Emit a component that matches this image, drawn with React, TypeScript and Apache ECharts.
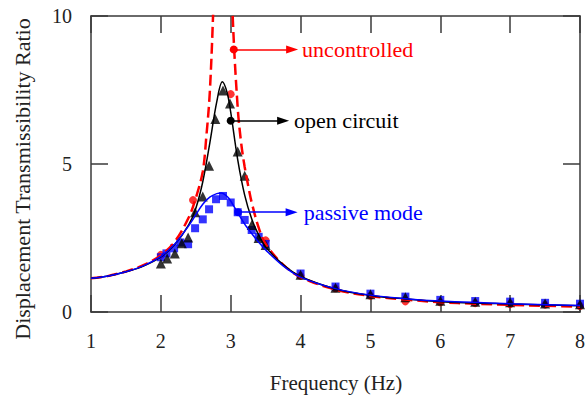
import React, { useEffect, useRef } from "react";
import * as echarts from "echarts";

// ---- Data ----
const xRange = [1, 8];
const yRange = [0, 10];

// theoretical curves [frequency (Hz), transmissibility ratio]
const uncontrolledCurve: number[][] = [
  [1, 1.14], [1.25, 1.22], [1.5, 1.37], [1.75, 1.58], [2, 1.92], [2.2, 2.38],
  [2.4, 3.2], [2.5, 3.85], [2.6, 4.75], [2.65, 5.9], [2.7, 7.4], [2.75, 10.2],
  [2.8, 14], [2.89, 18], [2.98, 14], [3.03, 9.9], [3.1, 6.9], [3.15, 5.7],
  [3.2, 4.9], [3.26, 4.15], [3.3, 3.7], [3.4, 2.85], [3.5, 2.3], [3.75, 1.6],
  [4, 1.18], [4.5, 0.76], [5, 0.54], [5.5, 0.42], [6, 0.33], [6.5, 0.28],
  [7, 0.24], [7.5, 0.21], [8, 0.18],
];
const openCircuitCurve: number[][] = [
  [1, 1.14], [1.25, 1.22], [1.5, 1.36], [1.75, 1.55], [2, 1.86], [2.2, 2.28],
  [2.4, 2.95], [2.5, 3.5], [2.6, 4.4], [2.7, 5.7], [2.8, 7.1], [2.88, 7.78],
  [2.95, 7.4], [3, 6.75], [3.1, 5.15], [3.2, 3.95], [3.3, 3.15], [3.4, 2.6],
  [3.5, 2.2], [3.75, 1.6], [4, 1.2], [4.5, 0.78], [5, 0.56], [5.5, 0.44],
  [6, 0.35], [7, 0.27], [8, 0.21],
];
const passiveCurve: number[][] = [
  [1, 1.14], [1.25, 1.22], [1.5, 1.36], [1.75, 1.56], [2, 1.88], [2.2, 2.3],
  [2.4, 2.92], [2.5, 3.28], [2.6, 3.64], [2.7, 3.88], [2.8, 4.0], [2.87, 4.02],
  [2.95, 3.9], [3, 3.75], [3.1, 3.35], [3.2, 2.97], [3.3, 2.65], [3.4, 2.36],
  [3.5, 2.1], [3.75, 1.56], [4, 1.18], [4.5, 0.79], [5, 0.57], [5.5, 0.45],
  [6, 0.37], [7, 0.28], [8, 0.22],
];

// measured points
const uncontrolledMeasured: number[][] = [
  [2, 1.93], [2.46, 3.78], [3, 7.36], [3.5, 2.42], [4, 1.22], [4.5, 0.8],
  [5, 0.55], [5.5, 0.36], [6, 0.33], [6.5, 0.3], [7, 0.27], [7.5, 0.25], [8, 0.2],
];
const openCircuitMeasured: number[][] = [
  [2, 1.64], [2.09, 1.81], [2.2, 1.98], [2.3, 2.32], [2.39, 2.52], [2.49, 3.37],
  [2.6, 3.9], [2.69, 4.94], [2.78, 6.52], [2.89, 7.48], [2.99, 7.04], [3.1, 5.42],
  [3.2, 4.6], [3.3, 2.94], [3.4, 2.5], [3.5, 2.26], [4, 1.26], [4.5, 0.82],
  [5, 0.6], [5.5, 0.5], [6, 0.38], [6.5, 0.35], [7, 0.33], [7.5, 0.29], [8, 0.26],
];
const passiveMeasured: number[][] = [
  [2, 1.85], [2.08, 1.98], [2.19, 2.15], [2.28, 2.35], [2.39, 2.29], [2.49, 2.83],
  [2.6, 3.13], [2.69, 3.47], [2.79, 3.81], [2.89, 3.92], [3, 3.7], [3.1, 3.37],
  [3.2, 3.11], [3.3, 2.77], [3.4, 2.54], [3.5, 2.3], [4, 1.3], [4.5, 0.86],
  [5, 0.62], [5.5, 0.52], [6, 0.41], [6.5, 0.37], [7, 0.35], [7.5, 0.31], [8, 0.28],
];

// annotations: label, start point, end frequency of the arrow
const labels = ["uncontrolled", "open circuit", "passive mode"];
const labelStart: number[][] = [[3.044, 8.87], [3.0, 6.46], [3.106, 3.37]];
const labelEnd: number[] = [3.879, 3.75, 3.872];

const FONT = "Liberation Serif";
const RED = "#ff0000";
const BLACK = "#000000";
const BLUE = "#0000ff";
const AXIS = "#3a3a3a";

function annotation(i: number, color: string, dist: number) {
  return {
    silent: true,
    symbol: ["circle", "triangle"],
    symbolSize: [8, 12],
    lineStyle: { color, width: 1.5, type: "solid" },
    label: {
      show: true,
      position: "end",
      distance: dist,
      formatter: labels[i],
      color,
      fontSize: 22,
      fontFamily: FONT,
    },
    emphasis: { disabled: true },
    data: [[{ coord: labelStart[i] }, { coord: [labelEnd[i], labelStart[i][1]] }]],
  };
}

export default function App() {
  const ref = useRef<HTMLDivElement>(null);
  useEffect(() => {
    document.body.style.margin = "0";
    if (!ref.current) return;
    const chart = echarts.init(ref.current, undefined, { renderer: "svg" });
    const tick = { show: true, inside: true, length: 17, lineStyle: { color: AXIS, width: 1.5 } };
    const line = { show: true, onZero: false, lineStyle: { color: AXIS, width: 1.5 } };
    const xBase = { type: "value", min: xRange[0], max: xRange[1], interval: 1, axisLine: line, axisTick: tick, splitLine: { show: false } };
    const yBase = { type: "value", min: yRange[0], max: yRange[1], interval: 5, axisLine: line, axisTick: tick, splitLine: { show: false } };
    const labelStyle = { margin: 19, color: "#222", fontSize: 20, fontFamily: FONT };
    chart.setOption({
      animation: false,
      grid: { left: 91, right: 6, top: 16, bottom: 87 },
      xAxis: [
        { ...xBase, position: "bottom", axisLabel: { show: true, ...labelStyle } },
        { ...xBase, position: "top", axisLabel: { show: false } },
      ],
      yAxis: [
        { ...yBase, position: "left", axisLabel: { show: true, ...labelStyle } },
        { ...yBase, position: "right", axisLabel: { show: false } },
      ],
      graphic: [
        {
          type: "text",
          x: 22,
          y: 179,
          rotation: Math.PI / 2,
          style: {
            text: "Displacement Transmissibility Ratio",
            fill: "#222",
            fontSize: 22,
            fontFamily: FONT,
            textAlign: "center",
            textVerticalAlign: "middle",
          },
        },
        {
          type: "text",
          x: 336,
          y: 383,
          style: {
            text: "Frequency (Hz)",
            fill: "#222",
            fontSize: 21,
            fontFamily: FONT,
            textAlign: "center",
            textVerticalAlign: "middle",
          },
        },
      ],
      series: [
        {
          type: "line",
          data: uncontrolledCurve,
          smooth: 0.35,
          showSymbol: false,
          clip: true,
          lineStyle: { color: RED, width: 2.5, type: [11, 5] },
          markLine: annotation(0, RED, 10),
        },
        {
          type: "line",
          data: openCircuitCurve,
          smooth: 0.35,
          showSymbol: false,
          clip: true,
          lineStyle: { color: BLACK, width: 1.5 },
          markLine: annotation(1, BLACK, 11),
        },
        {
          type: "line",
          data: passiveCurve,
          smooth: 0.35,
          showSymbol: false,
          clip: true,
          lineStyle: { color: BLUE, width: 1.5 },
          markLine: annotation(2, BLUE, 12),
        },
        {
          type: "scatter",
          data: uncontrolledMeasured,
          symbol: "circle",
          symbolSize: 8,
          itemStyle: { color: RED },
        },
        {
          type: "scatter",
          data: passiveMeasured,
          symbol: "rect",
          symbolSize: 8,
          itemStyle: { color: BLUE },
        },
        {
          type: "scatter",
          data: openCircuitMeasured,
          symbol: "triangle",
          symbolSize: 10,
          itemStyle: { color: BLACK },
        },
      ],
    });
    return () => chart.dispose();
  }, []);
  return <div ref={ref} style={{ width: 588, height: 399, background: "#fff" }} />;
}
